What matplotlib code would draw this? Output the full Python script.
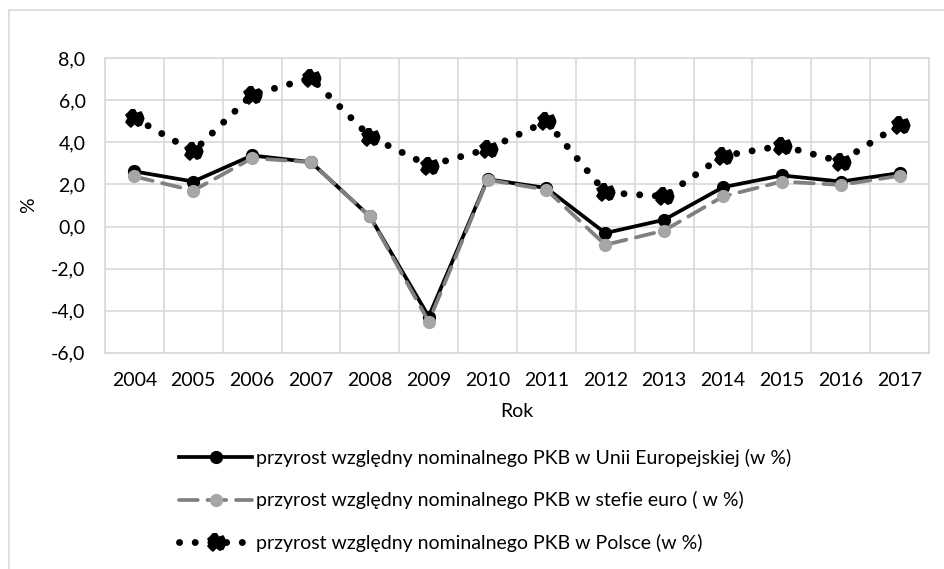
import numpy as np
import matplotlib
matplotlib.use("Agg")
import matplotlib.pyplot as plt
from matplotlib.lines import Line2D
from matplotlib.path import Path

plt.rcParams['font.family'] = ['Lato', 'DejaVu Sans']

# data
years = ['2004', '2005', '2006', '2007', '2008', '2009', '2010',
         '2011', '2012', '2013', '2014', '2015', '2016', '2017']
eu = [2.62, 2.14, 3.38, 3.06, 0.48, -4.28, 2.25, 1.83, -0.31, 0.32, 1.87, 2.43, 2.14, 2.54]
euro = [2.38, 1.71, 3.25, 3.06, 0.48, -4.52, 2.22, 1.75, -0.87, -0.19, 1.43, 2.14, 1.98, 2.41]
pl = [5.16, 3.57, 6.27, 7.06, 4.28, 2.90, 3.68, 5.0, 1.62, 1.43, 3.36, 3.84, 3.09, 4.84]
labels = ['przyrost względny nominalnego PKB w Unii Europejskiej (w %)',
          'przyrost względny nominalnego PKB w stefie euro ( w %)',
          'przyrost względny nominalnego PKB w Polsce (w %)']
yticks = [-6, -4, -2, 0, 2, 4, 6, 8]

# irregular blob marker (like the scanned original)
ang = np.linspace(0, 2*np.pi, 17)[:-1]
rad = np.array([1, 0.95, 1, 0.6, 0.95, 1, 0.9, 1, 0.7, 1, 0.95, 1, 0.55, 0.9, 1, 0.95])
verts = np.column_stack([rad*np.cos(ang), rad*np.sin(ang)])
verts = np.vstack([verts, verts[0]])
blob = Path(verts, [Path.MOVETO] + [Path.LINETO]*15 + [Path.CLOSEPOLY])

fs = 14
fig = plt.figure(figsize=(9.45, 5.69), dpi=100)
ax = fig.add_axes([105/945, 1-352.7/569, 824/945, 294.4/569])

x = np.arange(len(years))
ax.plot(x, pl, color='black', lw=5, linestyle=(0, (0.01, 2.25)), dash_capstyle='round',
        marker=blob, ms=13.5, mfc='black', mec='black', label=labels[2], zorder=3)
ax.plot(x, eu, color='black', lw=2.7, marker='o', ms=8.5, mfc='black', mec='black',
        label=labels[0], zorder=4)
ax.plot(x, euro, color='#808080', lw=2.7, linestyle=(0, (5, 2.6)), dash_capstyle='round',
        marker='o', ms=8.5, mfc='#a6a6a6', mec='#a6a6a6', label=labels[1], zorder=5)

ax.set_xlim(-0.5, len(years) - 0.5)
ax.set_ylim(-6, 8)
ax.set_yticks(yticks)
ax.set_yticklabels([('%.1f' % v).replace('.', ',') for v in yticks])
ax.set_xticks(x)
ax.set_xticklabels(years)
ax.set_xticks(np.arange(len(years) + 1) - 0.5, minor=True)
ax.tick_params(which='both', length=0, labelsize=fs, colors='#000000')
ax.tick_params(axis='x', pad=14)
ax.tick_params(axis='y', pad=14)
ax.grid(True, which='major', axis='y', color='#d9d9d9', lw=1.2)
ax.grid(True, which='minor', axis='x', color='#d9d9d9', lw=1.2)
for s in ax.spines.values():
    s.set_color('#d9d9d9')
    s.set_linewidth(1.2)
ax.set_xlabel('Rok', fontsize=fs, labelpad=10)
ax.set_ylabel('%', fontsize=fs, labelpad=10)

h, l = ax.get_legend_handles_labels()
order = [1, 2, 0]
fig.legend([h[i] for i in order], [l[i] for i in order], loc='upper left',
           bbox_to_anchor=(162/945, 1-431/569), frameon=False, fontsize=fs,
           handlelength=3.75, handletextpad=0.2, labelspacing=1.27)

# outer chart border (right and bottom sides lie outside the image)
fig.add_artist(Line2D([9/945, 9/945], [0, 1-10/569], color='#d9d9d9', lw=1.2))
fig.add_artist(Line2D([9/945, 1], [1-10/569, 1-10/569], color='#d9d9d9', lw=1.2))

fig.savefig('out.png', dpi=100)
